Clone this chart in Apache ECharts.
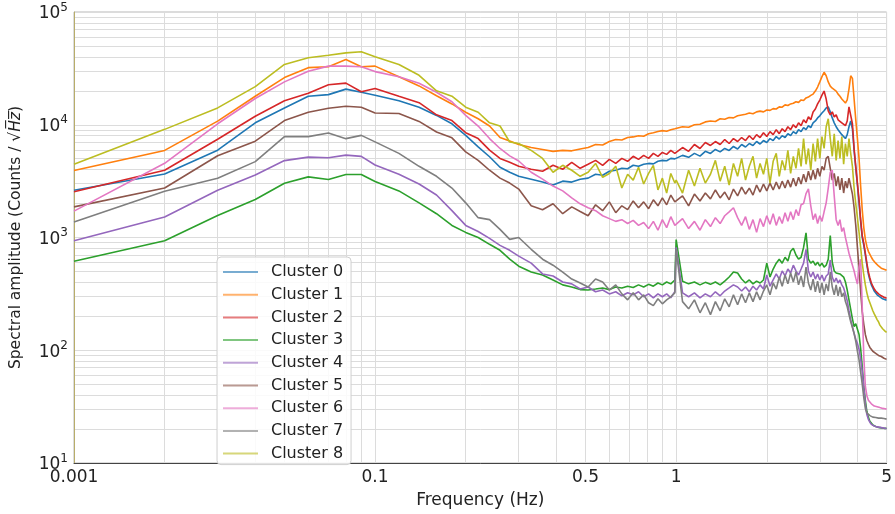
<!DOCTYPE html>
<html><head><meta charset="utf-8">
<script src="https://cdn.jsdelivr.net/npm/echarts@6/dist/echarts.min.js"></script>
<style>html,body{margin:0;padding:0;background:#fff}#c{width:895px;height:514px}</style>
</head><body><div id="c"></div>
<script>
// Frequency (Hz) sample points
const freqs = [0.01,0.02,0.03,0.04,0.05,0.06,0.07,0.08,0.09,0.10,
0.12,0.14,0.16,0.18,0.20,0.22,0.24,0.26,0.28,0.30,
0.33,0.36,0.39,0.42,0.45,0.48,0.51,0.54,0.57,0.60,0.63,0.66,0.69,0.72,0.75,0.78,0.81,0.84,0.87,0.90,0.93,0.96,0.99,
1.00,1.05,1.10,1.15,1.20,1.25,1.30,1.35,1.40,1.45,1.50,1.55,1.60,1.65,1.70,1.75,1.80,1.85,1.90,1.95,
2.00,2.05,2.10,2.15,2.20,2.25,2.30,2.35,2.40,2.45,2.50,2.55,2.60,2.65,2.70,2.75,2.80,2.85,2.90,2.95,
3.00,3.05,3.10,3.15,3.20,3.25,3.30,3.35,3.40,3.45,3.50,3.55,3.60,3.65,3.70,3.75,3.80,3.85,3.90,3.95,
4.00,4.05,4.10,4.15,4.20,4.25,4.30,4.35,4.40,4.45,4.50,4.55,4.60,4.65,4.70,4.75,4.80,4.85,4.90,4.95,5.00];

// Spectral amplitudes (Counts / sqrt(Hz))
const cluster0 = [2620,3660,5950,10400,14100,17900,18500,20700,19400,18300,
16300,14300,12100,10200,8060,6370,5200,4200,3790,3490,
3290,3100,2920,3160,3100,3290,3360,3640,3570,3870,3950,4110,4070,4370,4280,4460,4540,4500,4740,4830,4790,5030,4980,
5030,5350,5140,5570,5270,5810,5570,6040,5750,6160,5920,6420,6100,6680,6350,6820,6550,7100,6750,7240,
6960,7540,7240,7860,7460,8000,7700,8330,8000,8700,8330,9040,8700,9420,9040,9800,9420,10400,10800,11500,
12000,12700,13300,14100,14400,13000,11500,10400,9600,9040,8700,8170,7860,7540,8170,9600,10800,9220,5920,4110,
2920,2030,1390,1000,852,700,568,475,420,380,357,335,323,310,304,298,292,286,283,280,277];

const cluster1 = [3930,5920,10770,17900,26200,32100,32700,37900,32700,33100,
26700,22100,18100,15300,12900,11300,9740,7720,7160,6680,
6290,6040,5810,5930,5870,6100,6290,6680,6610,7100,7390,7320,7700,7800,8000,7900,8330,8500,8700,8870,8750,9040,9220,
9220,9600,9500,10000,10100,10600,10800,10700,11300,11200,11600,11500,12000,12200,12400,12700,12500,13000,13200,13000,
13500,13400,13900,13800,14400,14300,15000,14800,15300,15500,16000,15800,16600,16400,17300,17600,18200,18700,19900,21600,
24000,26700,29200,27200,24000,22000,21100,20500,19900,18700,17900,16900,16300,15600,16600,20700,27200,25800,16900,11100,
7540,5030,2860,1760,1224,963,833,754,710,668,635,610,592,575,559,546,535,530,524,518,513];

const cluster2 = [2550,3950,7430,11900,16300,19000,22600,23400,19600,21000,
17900,15700,12240,10900,8500,7540,5950,5030,4640,4280,
4030,3870,4370,4030,4640,4110,4460,4830,4370,4930,4540,5030,4740,5250,4930,5350,5030,5570,5250,5680,5460,5920,5570,
5570,6280,5810,6680,6160,6960,6550,7100,6680,7390,6820,7540,7100,7700,7240,8000,7390,8170,7700,8500,
7860,8700,8170,9040,8330,9220,8700,9600,9040,10000,9420,10400,9800,11060,10400,11750,11060,13000,13800,15300,
16570,18330,19900,16900,13300,12240,13000,11750,12240,11060,11500,10400,10600,9800,10800,14400,15000,10200,6160,4280,
3040,2160,1440,1040,887,725,592,494,437,395,370,349,335,323,316,310,304,298,295,292,289];

const cluster3 = [615,935,1570,2170,3030,3450,3270,3620,3620,3140,
2590,2030,1625,1280,1110,1000,870,770,642,557,
494,465,420,380,364,345,342,349,357,345,364,357,370,360,380,364,384,370,395,380,403,388,420,
960,410,388,403,380,400,384,403,380,410,446,494,484,428,395,420,388,410,395,420,
592,446,525,592,642,592,668,620,754,802,700,642,668,817,1100,642,592,617,568,605,
557,592,546,568,642,1040,605,505,484,494,475,456,446,403,342,280,230,190,162,172,
176,138,104,72,48,36,28.6,25.4,23.4,22.5,21.7,21.3,21.1,20.9,20.7,20.7,20.5,20.5,20.3,20.3,20.3];

const cluster4 = [935,1520,2620,3590,4810,5160,5100,5380,5240,4400,
3640,2980,2380,1730,1280,1130,982,852,770,683,
592,475,456,403,388,349,364,330,342,316,330,304,323,310,330,298,316,292,316,298,316,292,330,
817,323,298,323,292,316,298,330,304,335,357,380,364,335,364,330,370,342,380,349,
465,370,420,475,428,505,456,525,484,568,505,465,525,592,786,505,446,494,428,475,
420,465,410,456,475,632,446,403,437,395,420,380,357,316,275,224,187,162,141,125,
115,102,84,65,46,33.5,26.9,24.4,23,22,21.5,21.3,21.1,20.9,20.7,20.7,20.5,20.5,20.3,20.3,20.1];

const cluster5 = [1870,2750,5310,7150,10900,12900,14000,14600,14300,12700,
12600,10700,8630,7650,5740,4830,3950,3360,3040,2690,
1910,1765,1990,1625,1870,1700,1560,1950,1730,2070,1660,1910,1765,2110,1835,2070,1800,2160,1910,2245,1950,2380,2070,
2070,2340,1910,2430,2110,2480,2200,2640,2245,2530,2160,2690,2340,2800,2430,2745,2380,2920,2530,2980,
2590,3040,2640,3100,2690,3160,2745,3230,2800,3360,2860,3420,2980,3640,3100,3870,3230,3950,3290,4110,
3490,4280,3950,5030,5250,4110,3230,3700,2860,3490,2640,3360,2480,3160,2745,3360,2860,2430,1835,1280,
817,525,330,220,170,138,122,113,106,102,98,95,94,92,90,89,88,86,85,84,83];

const cluster6 = [1715,4550,10200,17100,24000,29800,33100,33100,32700,29600,
26700,23300,19400,16000,12100,9740,7540,6160,5300,4770,
3790,3290,2860,2590,2245,1990,1835,1730,1560,1470,1390,1440,1330,1420,1280,1360,1200,1390,1160,1440,1224,1530,1280,
1310,1470,1200,1390,1160,1440,1250,1500,1330,1560,1690,1835,1500,1280,1530,1180,1440,1110,1470,1250,
1560,1310,1625,1280,1530,1330,1660,1390,1690,1440,1765,1560,1950,2000,2450,2700,1910,1440,1625,1330,
1560,1390,1690,2030,2745,3790,3950,2340,1440,1280,1440,1130,1224,1000,852,725,642,568,505,436,
387,546,642,243,88,48,39.5,36,35,33.5,33,32,31.8,31.6,31.3,31,31,30.5,30.3,30.3,30];

const cluster7 = [1373,2570,3360,4710,7850,7850,8450,7530,8050,7050,
5570,4280,3490,2745,2030,1500,1440,1180,963,1000,
786,642,568,494,428,395,364,428,403,342,380,316,280,323,280,310,264,249,286,258,280,298,323,
786,270,233,280,215,264,207,270,224,286,243,310,253,316,264,323,270,330,280,335,
380,310,395,349,446,370,465,388,484,403,494,380,456,364,546,395,342,428,330,410,
323,395,310,388,335,494,364,310,380,304,364,298,323,270,243,207,179,159,141,120,
98,82,64,50,38,30.5,27.8,26.8,26.3,26,25.5,25.5,25.3,25.3,25,25,25,24.8,24.8,24.8,24.5];

const cluster8 = [4460,9100,14100,21800,34300,39300,41400,43400,44400,40100,
34200,27460,20000,17900,14300,12900,10400,9740,7030,6820,
5920,5030,3790,4370,3950,3490,3790,4540,3420,3700,4280,2750,3640,3230,4200,2980,3700,4370,2640,3360,2480,3700,3040,
3230,2480,3950,2860,4110,3040,3640,4830,3160,4280,2920,4540,3490,5030,3230,4280,5250,3360,4540,3640,
5030,3040,4740,5570,3490,4830,3950,5920,3700,5250,4110,6160,4280,7540,4460,6160,3950,6820,4740,7540,
5030,7860,6160,9600,11300,7540,5250,8330,4830,7240,5030,7860,4460,6820,5250,7540,5570,4280,2750,1990,
1500,1110,817,592,465,380,323,286,264,243,224,210,199,187,179,167,162,155,151,147,144];

const seriesNames = ['Cluster 0','Cluster 1','Cluster 2','Cluster 3','Cluster 4','Cluster 5','Cluster 6','Cluster 7','Cluster 8'];
const seriesValues = [cluster0,cluster1,cluster2,cluster3,cluster4,cluster5,cluster6,cluster7,cluster8];

// Axis ticks / gridlines
const xTickValues = [0.01,0.1,0.5,1,5];
const xTickLabels = ['0.001','0.1','0.5','1','5'];
const xGridValues = [0.01,0.02,0.03,0.04,0.05,0.06,0.07,0.08,0.09,0.1,0.2,0.3,0.4,0.5,0.6,0.7,0.8,0.9,1,2,3,4,5];
const yTickExponents = [1,2,3,4,5];
const yGridValues = [10,20,30,40,50,60,70,80,90,100,200,300,400,500,600,700,800,900,1000,2000,3000,4000,5000,6000,7000,8000,9000,10000,20000,30000,40000,50000,60000,70000,80000,90000,100000];

const colors = ['#1f77b4','#ff7f0e','#d62728','#2ca02c','#9467bd','#8c564b','#e377c2','#7f7f7f','#bcbd22'];
const FONT = 'DejaVu Sans';

const chart = echarts.init(document.getElementById('c'), null, {renderer:'canvas'});
const option = {
  animation: false,
  backgroundColor: '#ffffff',
  color: colors,
  grid: {left:72, right:3, top:12, bottom:46, show:true, borderColor:'#b8b8b8', borderWidth:1, backgroundColor:'transparent'},
  xAxis: {
    type:'value', min:-2, max:Math.log10(5),
    axisLine:{show:true, onZero:false, lineStyle:{color:'#444', width:1}},
    axisTick:{show:false, customValues: xGridValues.map(v=>Math.log10(v))},
    splitLine:{show:true, lineStyle:{color:'#dcdcdc', width:1}},
    axisLabel:{
      customValues: xTickValues.map(v=>Math.log10(v)),
      formatter: function(v){
        for (let i=0;i<xTickValues.length;i++){ if (Math.abs(Math.log10(xTickValues[i])-v)<1e-6) return xTickLabels[i]; }
        return '';
      },
      color:'#222', fontSize:17, fontFamily:FONT, margin:6, showMinLabel:true, showMaxLabel:true
    },
    name:'Frequency (Hz)', nameLocation:'middle', nameGap:29,
    nameTextStyle:{fontSize:17, fontFamily:FONT, color:'#222'}
  },
  yAxis: {
    type:'value', min:1, max:5,
    axisLine:{show:true, onZero:false, lineStyle:{color:'#b8ad6a', width:1}},
    axisTick:{show:false, customValues: yGridValues.map(v=>Math.log10(v))},
    splitLine:{show:true, lineStyle:{color:'#dcdcdc', width:1}},
    axisLabel:{
      customValues: yTickExponents,
      formatter: function(v){ return '{b|10}{s|' + Math.round(v) + '}'; },
      margin:6,
      rich:{
        b:{fontSize:17, fontFamily:FONT, color:'#222', verticalAlign:'bottom'},
        s:{fontSize:12, fontFamily:FONT, color:'#222', verticalAlign:'bottom', padding:[0,0,9,0]}
      }
    },
    name:'Spectral amplitude (Counts / \u221A{h|H\u0305z\u0305})', nameLocation:'middle', nameGap:50, nameRotate:90,
    nameTextStyle:{fontSize:15.5, fontFamily:FONT, color:'#222',
      rich:{h:{fontSize:15.5, fontFamily:FONT, fontStyle:'italic', color:'#222'}}}
  },
  legend: {
    orient:'vertical', left:217, top:257,
    icon:'rect', itemWidth:35, itemHeight:2, itemGap:6.7,
    padding:[7,8,3,6],
    backgroundColor:'rgba(255,255,255,0.85)', borderColor:'#d0d0d0', borderWidth:1, borderRadius:4,
    itemStyle:{opacity:0.6},
    textStyle:{fontSize:16, lineHeight:14, fontFamily:FONT, color:'#222', padding:[0,0,0,8]},
    data: seriesNames
  },
  series: seriesNames.map(function(name, i){
    const vals = seriesValues[i];
    const n = Math.min(vals.length, freqs.length);
    const data = [];
    for (let j=0;j<n;j++) data.push([Math.log10(freqs[j]), Math.log10(vals[j])]);
    return {name:name, type:'line', data:data, symbol:'none', showSymbol:false,
      lineStyle:{width:1.6}, clip:true, emphasis:{disabled:true}, silent:true};
  })
};
chart.setOption(option);
</script>
</body></html>
